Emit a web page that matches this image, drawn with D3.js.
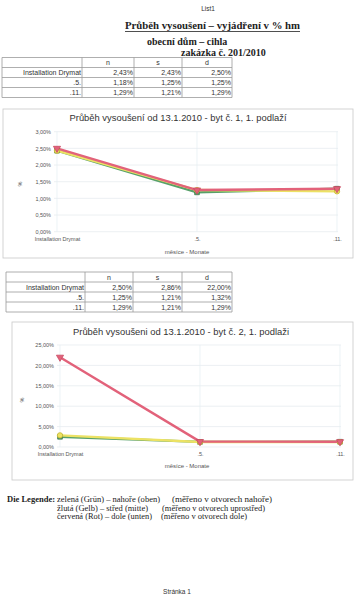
<!DOCTYPE html>
<html><head><meta charset="utf-8">
<script src="https://cdn.jsdelivr.net/npm/d3@7"></script>
<style>
html,body{margin:0;padding:0;background:#fff;}
svg{display:block;}
</style></head>
<body>
<svg id="c" width="356" height="600"></svg>
<script>
// ---------- data ----------
const categories = ["Installation Drymat", ".5.", ".11."];
const seriesNames = ["n", "s", "d"];
// chart / table 1 (byt č. 1)
const t1_n = [0.0243, 0.0118, 0.0129];
const t1_s = [0.0243, 0.0125, 0.0121];
const t1_d = [0.0250, 0.0125, 0.0129];
// chart / table 2 (byt č. 2)
const t2_n = [0.0250, 0.0125, 0.0129];
const t2_s = [0.0286, 0.0121, 0.0121];
const t2_d = [0.2200, 0.0132, 0.0129];
const yTicks1 = [0, 0.005, 0.01, 0.015, 0.02, 0.025, 0.03];
const yTicks2 = [0, 0.05, 0.10, 0.15, 0.20, 0.25];
const chartTitle1 = "Průběh vysoušení od 13.1.2010 - byt č. 1, 1. podlaží";
const chartTitle2 = "Průběh vysoušeni od 13.1.2010 - byt č. 2, 1. podlaži";
const xTitle = "měsíce - Monate";
const yTitle = "%";
const colors = {n: "#57a06a", s: "#ece264", d: "#e2627a"};
const markerStroke = {n: "#3d7a4c", s: "#c8b830", d: "#c84a62"};

const loc = d3.formatLocale({decimal: ",", thousands: " ", grouping: [3], currency: ["", ""], percent: "%"});
const pct = loc.format(".2%");

const svg = d3.select("#c");
const SANS = "'Liberation Sans', Arial, sans-serif";
const SERIF = "'Liberation Serif', 'Times New Roman', serif";

// ---------- header ----------
svg.append("text").attr("x", 208).attr("y", 11).attr("text-anchor", "middle")
  .attr("font-family", SANS).attr("font-size", 6.5).attr("fill", "#333").text("List1");
svg.append("text").attr("x", 125).attr("y", 29)
  .attr("font-family", SERIF).attr("font-weight", "bold").attr("font-size", 10)
  .attr("textLength", 175).attr("lengthAdjust", "spacingAndGlyphs").attr("fill", "#222")
  .text("Průběh vysoušení – vyjádření v % hm");
svg.append("line").attr("x1", 125).attr("x2", 300).attr("y1", 31.5).attr("y2", 31.5)
  .attr("stroke", "#222").attr("stroke-width", 0.8);
svg.append("text").attr("x", 147).attr("y", 44.5)
  .attr("font-family", SERIF).attr("font-weight", "bold").attr("font-size", 10)
  .attr("fill", "#222").text("obecní dům – cihla");
svg.append("text").attr("x", 181).attr("y", 55.5)
  .attr("font-family", SERIF).attr("font-weight", "bold").attr("font-size", 10)
  .attr("fill", "#222").text("zakázka č. 201/2010");

// ---------- tables ----------
function drawTable(left, top, rowH, colX, vals) {
  const g = svg.append("g");
  const right = colX[colX.length - 1];
  const nRows = categories.length + 1;
  const ys = d3.range(nRows + 1).map(i => top + i * rowH);
  g.selectAll("line.h").data(ys).join("line")
    .attr("x1", left).attr("x2", right).attr("y1", d => d).attr("y2", d => d)
    .attr("stroke", "#9a9a9a").attr("stroke-width", 0.8);
  g.selectAll("line.v").data([left].concat(colX)).join("line").attr("class", "v")
    .attr("x1", d => d).attr("x2", d => d).attr("y1", top).attr("y2", ys[nRows])
    .attr("stroke", "#9a9a9a").attr("stroke-width", 0.8);
  seriesNames.forEach((s, j) => {
    g.append("text").attr("x", (colX[j] + colX[j + 1]) / 2).attr("y", top + rowH - 2.3)
      .attr("text-anchor", "middle").attr("font-family", SANS).attr("font-size", 7)
      .attr("fill", "#333").text(s);
  });
  categories.forEach((c, i) => {
    const y = top + (i + 2) * rowH - 2.3;
    g.append("text").attr("x", colX[0] - 1).attr("y", y).attr("text-anchor", "end")
      .attr("font-family", SANS).attr("font-size", 7).attr("fill", "#333").text(c);
    seriesNames.forEach((s, j) => {
      g.append("text").attr("x", colX[j + 1] - 1).attr("y", y).attr("text-anchor", "end")
        .attr("font-family", SANS).attr("font-size", 7).attr("fill", "#333").text(pct(vals[s][i]));
    });
  });
}
drawTable(2, 57.5, 10, [82, 134, 182, 232], {n: t1_n, s: t1_s, d: t1_d});
drawTable(6, 272, 10, [85, 133, 182, 232], {n: t2_n, s: t2_s, d: t2_d});

// ---------- charts ----------
function drawChart(cfg) {
  const g = svg.append("g");
  g.append("rect").attr("x", cfg.frame[0]).attr("y", cfg.frame[1])
    .attr("width", cfg.frame[2] - cfg.frame[0]).attr("height", cfg.frame[3] - cfg.frame[1])
    .attr("fill", "#fff").attr("stroke", "#c8c8c8").attr("stroke-width", 0.8);
  const x = d3.scalePoint().domain(categories).range(cfg.xRange);
  const y = d3.scaleLinear().domain(cfg.yDomain).range(cfg.yRange);
  g.selectAll("line.gy").data(cfg.ticks).join("line")
    .attr("x1", cfg.xRange[0] - 3).attr("x2", cfg.xRange[1] + 1)
    .attr("y1", d => y(d)).attr("y2", d => y(d))
    .attr("stroke", "#e4e9ee").attr("stroke-width", 0.7);
  g.selectAll("line.gx").data(categories).join("line").attr("class", "gx")
    .attr("x1", d => x(d)).attr("x2", d => x(d))
    .attr("y1", cfg.yRange[1]).attr("y2", cfg.yRange[0])
    .attr("stroke", "#e4eef2").attr("stroke-width", 0.7);
  const ya = g.append("g").attr("transform", `translate(${cfg.xRange[0] - 6},0)`)
    .call(d3.axisLeft(y).tickValues(cfg.ticks).tickFormat(pct).tickSize(0).tickPadding(0));
  ya.select(".domain").remove();
  ya.selectAll("text").attr("font-family", SANS).attr("font-size", 5.5).attr("fill", "#555");
  const xa = g.append("g").attr("transform", `translate(0,${cfg.yRange[0] + 4})`)
    .call(d3.axisBottom(x).tickSize(0).tickPadding(0));
  xa.select(".domain").remove();
  xa.selectAll("text").attr("font-family", SANS).attr("font-size", 5.5).attr("fill", "#555").attr("dy", "0.9em");
  g.append("text").attr("x", cfg.titleX).attr("y", cfg.titleY).attr("text-anchor", "middle")
    .attr("font-family", SANS).attr("font-size", 9).attr("fill", "#333")
    .attr("textLength", cfg.titleW).attr("lengthAdjust", "spacingAndGlyphs").text(cfg.title);
  g.append("text").attr("x", 187).attr("y", cfg.xTitleY).attr("text-anchor", "middle")
    .attr("font-family", SANS).attr("font-size", 6).attr("fill", "#555").text(xTitle);
  g.append("text").attr("transform", `translate(${cfg.yTitleX},${cfg.yTitleY}) rotate(-90)`)
    .attr("text-anchor", "middle").attr("font-family", SANS).attr("font-size", 5.5)
    .attr("fill", "#555").text(yTitle);
  const line = d3.line().x((d, i) => x(categories[i])).y(d => y(d));
  seriesNames.forEach(s => {
    g.append("path").datum(cfg.data[s]).attr("d", line).attr("fill", "none")
      .attr("stroke", colors[s]).attr("stroke-width", 2.4).attr("stroke-linejoin", "round");
  });
  const symType = {n: d3.symbolSquare, s: d3.symbolCircle, d: d3.symbolTriangle};
  seriesNames.forEach(s => {
    g.selectAll(null).data(cfg.data[s]).join("path")
      .attr("d", d3.symbol().type(symType[s]).size(22))
      .attr("transform", (d, i) => `translate(${x(categories[i])},${y(d)})` + (s === "d" ? " rotate(180)" : ""))
      .attr("fill", colors[s]).attr("stroke", markerStroke[s]).attr("stroke-width", 0.8);
  });
}
drawChart({
  frame: [3, 109, 353, 258], xRange: [57, 337], yDomain: [0, 0.03], yRange: [231.7, 131.7],
  ticks: yTicks1, title: chartTitle1, titleX: 178, titleY: 121, titleW: 217,
  xTitleY: 254, yTitleX: 22, yTitleY: 184, data: {n: t1_n, s: t1_s, d: t1_d}
});
drawChart({
  frame: [12, 322, 353, 480], xRange: [60, 340], yDomain: [0, 0.25], yRange: [447, 345],
  ticks: yTicks2, title: chartTitle2, titleX: 181, titleY: 335, titleW: 216,
  xTitleY: 468, yTitleX: 24, yTitleY: 400, data: {n: t2_n, s: t2_s, d: t2_d}
});

// ---------- legend text ----------
const legendLines = [
  ["zelená (Grün) – nahoře (oben)", "(měřeno v otvorech nahoře)"],
  ["žlutá (Gelb) – střed (mitte)", "(měřeno v otvorech uprostřed)"],
  ["červená (Rot) – dole (unten)", "(měřeno v otvorech dole)"]
];
const legendX2 = [172, 162, 161];
const legendW1 = [103, 91, 95];
const legendW2 = [100, 103, 86];
svg.append("text").attr("x", 7).attr("y", 502).attr("font-family", SERIF).attr("font-weight", "bold")
  .attr("font-size", 8).attr("textLength", 48).attr("lengthAdjust", "spacingAndGlyphs")
  .attr("fill", "#222").text("Die Legende:");
legendLines.forEach((l, i) => {
  const yy = 502 + i * 8.5;
  svg.append("text").attr("x", 57).attr("y", yy).attr("font-family", SERIF).attr("font-size", 8)
    .attr("textLength", legendW1[i]).attr("lengthAdjust", "spacingAndGlyphs")
    .attr("fill", "#222").text(l[0]);
  svg.append("text").attr("x", legendX2[i]).attr("y", yy).attr("font-family", SERIF).attr("font-size", 8)
    .attr("textLength", legendW2[i]).attr("lengthAdjust", "spacingAndGlyphs")
    .attr("fill", "#222").text(l[1]);
});
svg.append("text").attr("x", 177).attr("y", 594).attr("text-anchor", "middle")
  .attr("font-family", SANS).attr("font-size", 6.5).attr("fill", "#333").text("Stránka 1");
</script>
</body></html>
